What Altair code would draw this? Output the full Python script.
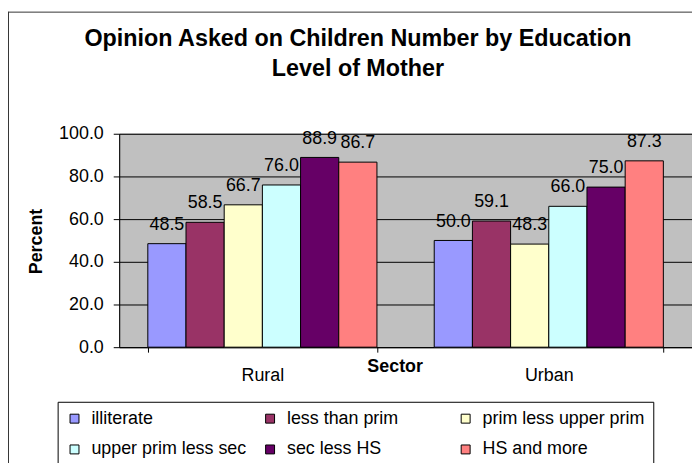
import altair as alt
import pandas as pd

sectors = ["Rural", "Urban"]
education = ["illiterate", "less than prim", "prim less upper prim",
             "upper prim less sec", "sec less HS", "HS and more"]
rural = [48.5, 58.5, 66.7, 76.0, 88.9, 86.7]
urban = [50.0, 59.1, 48.3, 66.0, 75.0, 87.3]
colors = ["#9999FF", "#993366", "#FFFFCC", "#CCFFFF", "#660066", "#FF8080"]
y_ticks = [0, 20, 40, 60, 80, 100]

rows = []
for s, vals in zip(sectors, [rural, urban]):
    for e, v in zip(education, vals):
        rows.append({"Sector": s, "Education": e, "Percent": v})
df = pd.DataFrame(rows)

FONT = "Liberation Sans"

x = alt.X(
    "Sector:N", sort=sectors,
    scale=alt.Scale(paddingInner=0.2, paddingOuter=0.1),
    axis=alt.Axis(
        title="Sector", labelAngle=0, labelFontSize=18, labelFont=FONT,
        labelColor="black", labelPadding=15, tickBand="extent", tickSize=5,
        tickColor="black", domainColor="black", grid=False,
        titleFontSize=18, titleFont=FONT, titleFontWeight="bold",
        titleColor="black", titleX=277.5, titleY=24,
        titleBaseline="alphabetic", titleAlign="center",
    ),
)
xo = alt.XOffset("Education:N", sort=education,
                 scale=alt.Scale(paddingInner=0, paddingOuter=0))
y = alt.Y(
    "Percent:Q",
    scale=alt.Scale(domain=[0, 100], nice=False),
    axis=alt.Axis(
        values=y_ticks, format=".1f", title="Percent",
        labelFontSize=18, labelFont=FONT, labelColor="black", labelPadding=10,
        tickSize=6, tickColor="black", domainColor="black",
        grid=True, gridColor="black", gridWidth=1,
        titleFontSize=18, titleFont=FONT, titleFontWeight="bold",
        titleColor="black", titleAngle=270, titleX=-83, titleY=108,
        titleBaseline="middle", titleAlign="center",
    ),
)
color = alt.Color(
    "Education:N", sort=education,
    scale=alt.Scale(domain=education, range=colors),
    legend=alt.Legend(
        title=None, orient="none", legendX=-62, legendY=270, columns=3,
        direction="horizontal",
        symbolType="square", symbolSize=81, symbolStrokeColor="black",
        symbolStrokeWidth=1, symbolOpacity=1, labelFontSize=18, labelFont=FONT,
        labelColor="black", labelOffset=8, gridAlign="all", columnPadding=7,
        rowPadding=13, padding=8, strokeColor="black", fillColor="white",
        labelLimit=300,
    ),
)

bars = alt.Chart(df).mark_bar(stroke="black", strokeWidth=1).encode(
    x=x, xOffset=xo, y=y, color=color
)
labels = alt.Chart(df).mark_text(
    dy=-14, baseline="alphabetic", fontSize=18, font=FONT, color="black"
).encode(x=x, xOffset=xo, y=y, text=alt.Text("Percent:Q", format=".1f"))

frame_data = alt.Data(values=[{"k": 1}])
frame_left = alt.Chart(frame_data).mark_rule(color="#333333", strokeWidth=1).encode(
    x=alt.value(-111.5), y=alt.value(-123), y2=alt.value(400)
)
frame_top = alt.Chart(frame_data).mark_rule(color="#333333", strokeWidth=1).encode(
    x=alt.value(-111.5), x2=alt.value(700), y=alt.value(-122.5), y2=alt.value(-122.5)
)

chart = alt.layer(frame_left, frame_top, bars, labels).properties(
    width=577, height=215,
    title=alt.TitleParams(
        text=["Opinion Asked on Children Number by Education", "Level of Mother"],
        fontSize=23.5, font=FONT, fontWeight="bold", color="black",
        lineHeight=30, anchor="middle", dx=-48, dy=70, offset=0,
    ),
    autosize=alt.AutoSizeParams(type="none"),
    padding={"left": 112, "top": 125, "right": 0, "bottom": 115},
).configure(background="white").configure_view(fill="#C0C0C0", stroke="#808080")

chart.save("out.html", embed_options={"renderer": "svg", "actions": False})
